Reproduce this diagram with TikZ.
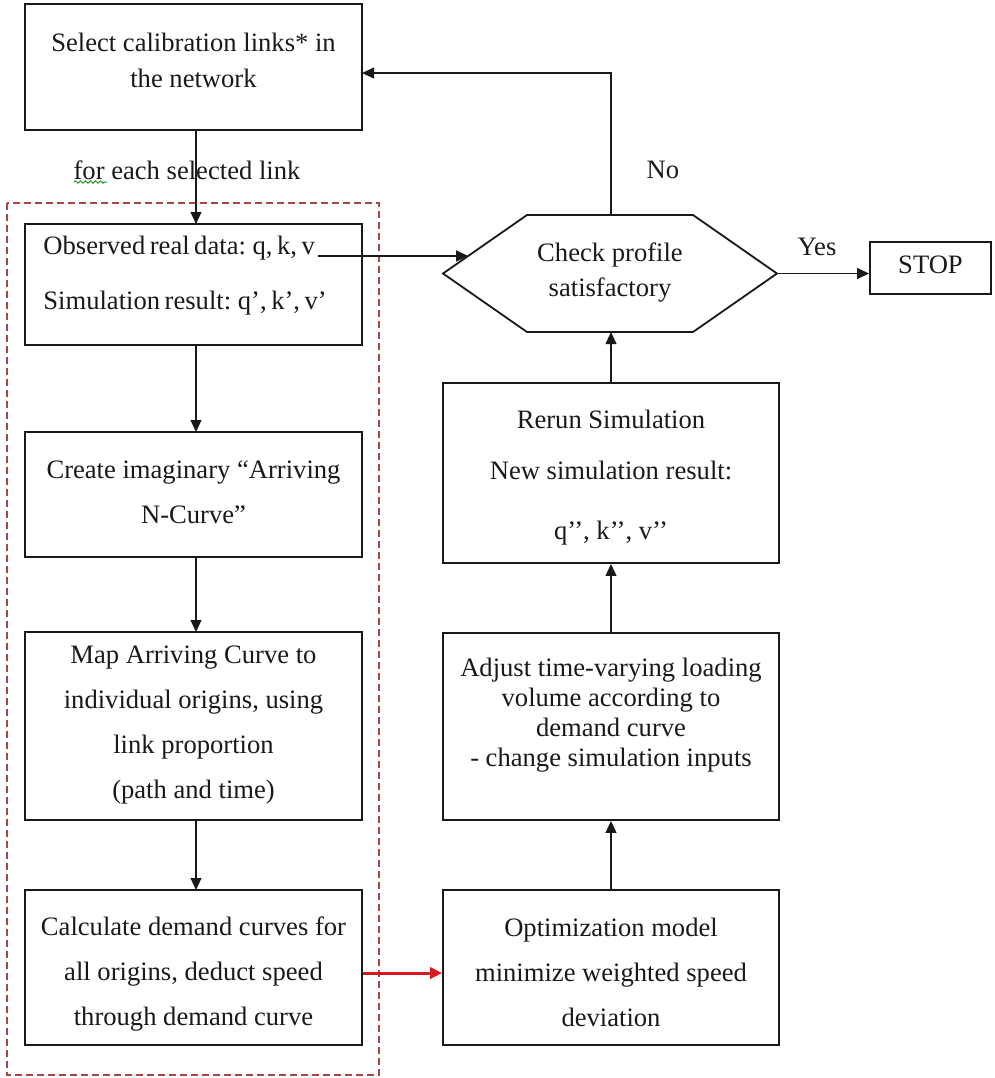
\documentclass[tikz,border=0pt]{standalone}
\usepackage{fontspec}
\setmainfont{Liberation Serif}
\usetikzlibrary{arrows.meta,fit,calc,decorations.pathmorphing}
\definecolor{ink}{RGB}{25,25,25}
\definecolor{groupred}{RGB}{170,70,70}
\definecolor{flowred}{RGB}{215,25,30}
\definecolor{squiggle}{RGB}{40,150,40}
\newcommand{\tightwords}{\spaceskip=0.17em plus 0.05em\relax}
\begin{document}
\begin{tikzpicture}[x=0.5pt,y=-0.5pt,
  box/.style={draw=ink, line width=0.9pt, inner sep=0pt},
  txt/.style={inner sep=0pt, align=center, text=ink},
  flow/.style={draw=ink, line width=0.8pt},
  arr/.style={flow, -{Triangle[length=6pt,width=5.4pt]}},
  redarr/.style={draw=flowred, line width=1.5pt, -{Triangle[length=6pt,width=5.6pt]}, color=flowred},
  group/.style={draw=groupred, line width=0.6pt, dash pattern=on 3.5pt off 2pt},
  f36/.style={font=\fontsize{13.3}{18}\selectfont},
  f45/.style={font=\fontsize{13.3}{22.4}\selectfont},
  f30/.style={font=\fontsize{13.3}{15}\selectfont},
  f55/.style={font=\fontsize{13.3}{27.5}\selectfont\tightwords}
]
\useasboundingbox (0,0) rectangle (995,1078);

% dashed frame around the per-link steps
\draw[group] (7,203) rectangle (379,1075);

% left column
\node[box, fit={(25,4) (362,130)}] (sel) {};
\node[txt, f36] (seltxt) at (193.5,60) {Select calibration links* in\\the network};

\node[txt, f36] (each) at (187,170) {for each selected link};
\draw[squiggle, line width=0.5pt, decorate,
      decoration={snake, amplitude=0.6pt, segment length=2.5pt}]
      (74,182) -- (107,182);

\node[box, fit={(25,224) (362,345)}] (obs) {};
\node[txt, f55, align=left, anchor=west] (obstxt) at (43,275.5)
  {Observed real data: q, k, v\\Simulation result: q’, k’, v’};
\coordinate (obsv) at (318,256);

\node[box, fit={(25,432) (362,557)}] (cre) {};
\node[txt, f45] (cretxt) at (193.5,492.5) {Create imaginary “Arriving\\N-Curve”};

\node[box, fit={(25,632) (362,820)}] (map) {};
\node[txt, f45] (maptxt) at (193.5,725)
  {Map Arriving Curve to\\individual origins, using\\link proportion\\(path and time)};

\node[box, fit={(25,890) (362,1045)}] (calc) {};
\node[txt, f45] (calctxt) at (193.5,974)
  {Calculate demand curves for\\all origins, deduct speed\\through demand curve};

% right column
\coordinate (hexW)  at (443,273.5);
\coordinate (hexNW) at (527,215);
\coordinate (hexNE) at (693,215);
\coordinate (hexE)  at (777,273.5);
\coordinate (hexSE) at (693,332);
\coordinate (hexSW) at (527,332);
\coordinate (hexN)  at (611,215);
\coordinate (hexS)  at (611,332);
\draw[box] (hexW) -- (hexNW) -- (hexNE) -- (hexE) -- (hexSE) -- (hexSW) -- cycle;
\node[txt, font=\fontsize{13.3}{17.5}\selectfont] (chk) at (610,272.5) {Check profile\\satisfactory};
\coordinate (hexin) at ($(hexW)!0.3!(hexNW)$);

\node[box, fit={(870,242) (991,294)}] (stop) {};
\node[txt, font=\fontsize{13.3}{15}\selectfont] (stoptxt) at (930.5,265) {STOP};

\node[box, fit={(443,383) (779,563)}] (rerun) {};
\node[txt, font=\fontsize{13.3}{25.5}\selectfont] (reruntxt) at (611,477.5)
  {Rerun Simulation\\New simulation result:\\[4.5pt]q’’, k’’, v’’};

\node[box, fit={(443,633) (779,820)}] (adj) {};
\node[txt, f30] (adjtxt) at (611,715)
  {Adjust time-varying loading\\volume according to\\demand curve\\- change simulation inputs};

\node[box, fit={(443,890) (779,1045)}] (opt) {};
\node[txt, f45] (opttxt) at (611,972.5)
  {Optimization model\\minimize weighted speed\\deviation};

% labels on the decision branches
\node[txt, font=\fontsize{13.3}{15}\selectfont] (yes) at (817,247) {Yes};
\node[txt, font=\fontsize{13.3}{15}\selectfont] (no) at (663,170) {No};

% connectors
\coordinate (loopin) at (362,73);
\draw[flow] (sel.south -| 196,0) -- (obs.north -| 196,0);
\draw[arr] (196,130) -- (196,224);
\draw[arr] (196,345) -- (196,432);
\draw[arr] (196,557) -- (196,632);
\draw[arr] (196,820) -- (196,890);
\draw[arr] (obsv) -- (obsv -| hexin);
\draw[arr] (hexE) -- (stop.west |- hexE);
\draw[arr] (hexN) -- (hexN |- loopin) -- (loopin);
\draw[arr] (rerun.north -| hexS) -- (hexS);
\draw[arr] (adj.north -| hexS) -- (rerun.south -| hexS);
\draw[arr] (opt.north -| hexS) -- (adj.south -| hexS);
\draw[redarr] (calc.east |- 0,973) -- (opt.west |- 0,973);
\end{tikzpicture}
\end{document}
